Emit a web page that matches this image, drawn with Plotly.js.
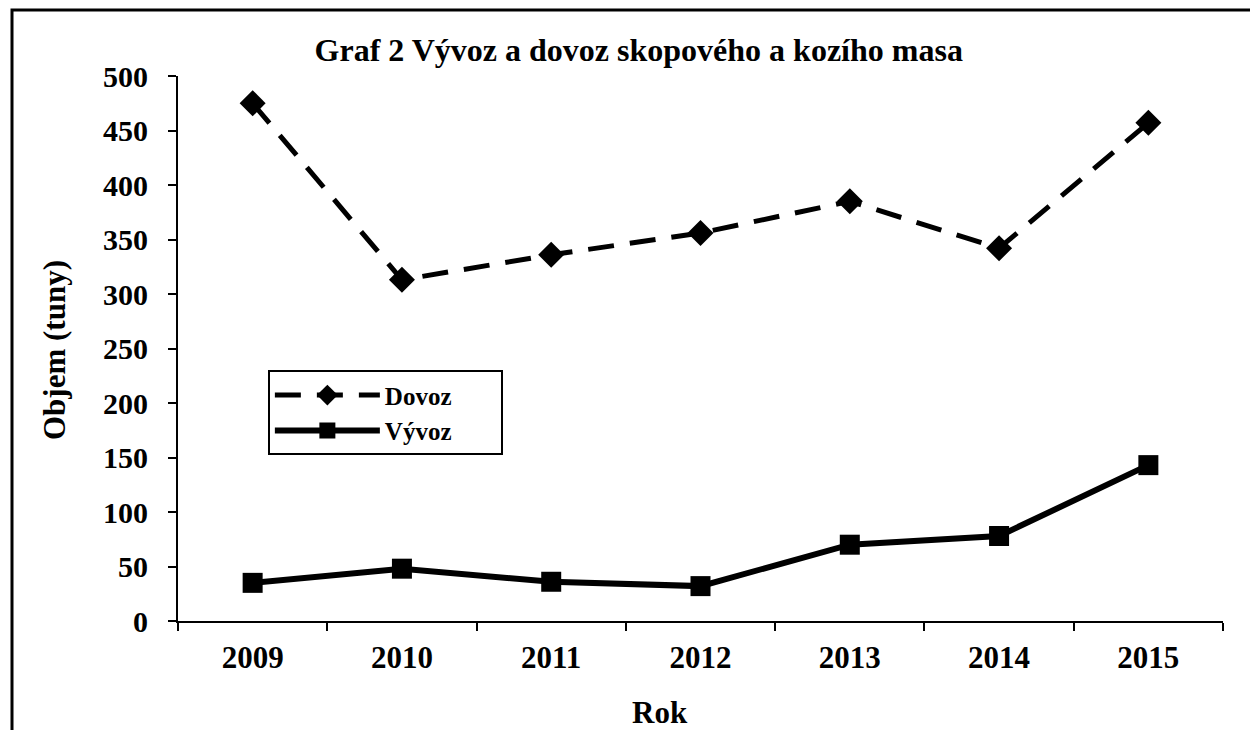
<!DOCTYPE html>
<html>
<head>
<meta charset="utf-8">
<script src="https://cdn.plot.ly/plotly-3.0.1.min.js"></script>
<style>html,body{margin:0;padding:0;background:#fff;}#chart{width:1250px;height:730px;}</style>
</head>
<body>
<div id="chart"></div>
<script>
const years = ["2009", "2010", "2011", "2012", "2013", "2014", "2015"];
const dovoz = [475, 313, 336, 356, 385, 342, 457];
const vyvoz = [35, 48, 36, 32, 70, 78, 143];
const yTicks = [0, 50, 100, 150, 200, 250, 300, 350, 400, 450, 500];

const FONT = "Liberation Serif, Times New Roman, serif";
const PAD = "&nbsp;".repeat(7);

const traces = [
  {
    x: years, y: dovoz, name: "<b>Dovoz</b>" + PAD, type: "scatter", mode: "lines+markers",
    line: {color: "#000", width: 5, dash: "26px,16px"},
    marker: {symbol: "diamond", size: 20, color: "#000"}
  },
  {
    x: years, y: vyvoz, name: "<b>Vývoz</b>" + PAD, type: "scatter", mode: "lines+markers",
    line: {color: "#000", width: 6},
    marker: {symbol: "square", size: 20, color: "#000"}
  }
];

const layout = {
  width: 1250, height: 730,
  margin: {l: 178, r: 27, t: 76, b: 109},
  paper_bgcolor: "#fff", plot_bgcolor: "#fff",
  font: {family: FONT, color: "#000"},
  showlegend: true,
  title: {
    text: "<b>Graf 2 Vývoz a dovoz skopového a kozího masa</b>",
    font: {family: FONT, size: 32, color: "#000"},
    x: 0.511, xref: "container", xanchor: "center",
    y: 0.932, yref: "container", yanchor: "middle"
  },
  xaxis: {
    type: "category", range: [-0.5, 6.5],
    tickson: "boundaries", ticks: "outside", ticklen: 8, tickwidth: 2, tickcolor: "#000",
    showline: true, linecolor: "#000", linewidth: 2,
    showgrid: false, zeroline: false,
    tickfont: {family: FONT, size: 31, color: "#000"},
    tickprefix: "<b>", ticksuffix: "</b>",
    ticklabelstandoff: 8,
    fixedrange: true
  },
  yaxis: {
    range: [0, 500], tickvals: yTicks, ticktext: yTicks.map(v => "<b>" + v + "</b>"),
    ticks: "outside", ticklen: 8, tickwidth: 2, tickcolor: "#000",
    showline: true, linecolor: "#000", linewidth: 2,
    showgrid: false, zeroline: false,
    tickfont: {family: FONT, size: 30, color: "#000"},
    ticklabelstandoff: 14,
    fixedrange: true
  },
  legend: {
    x: 0.086, y: 0.46, xanchor: "left", yanchor: "top",
    bgcolor: "#fff", bordercolor: "#000", borderwidth: 2,
    font: {family: FONT, size: 25, color: "#000"},
    itemwidth: 105, tracegroupgap: 0
  },
  annotations: [
    {
      text: "<b>Rok</b>", xref: "paper", yref: "paper",
      x: (660 - 178) / 1045, y: (621 - 712) / 545,
      xanchor: "center", yanchor: "middle", showarrow: false,
      font: {family: FONT, size: 31, color: "#000"}
    },
    {
      text: "<b>Objem (tuny)</b>", xref: "paper", yref: "paper",
      x: (55 - 178) / 1045, y: (621 - 350) / 545,
      xanchor: "center", yanchor: "middle", showarrow: false, textangle: -90,
      font: {family: FONT, size: 31, color: "#000"}
    }
  ],
  shapes: [
    {
      type: "rect", xref: "paper", yref: "paper",
      x0: (12 - 178) / 1045, x1: (1265 - 178) / 1045,
      y0: (621 - 750) / 545, y1: (621 - 10) / 545,
      line: {color: "#000", width: 3}, fillcolor: "rgba(0,0,0,0)", layer: "below"
    }
  ]
};

Plotly.newPlot("chart", traces, layout, {displayModeBar: false, staticPlot: true});
</script>
</body>
</html>
